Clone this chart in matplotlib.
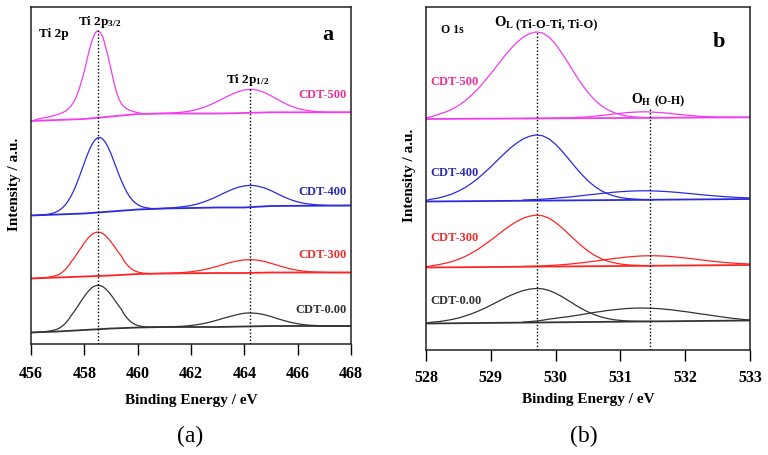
import matplotlib
matplotlib.use("Agg")
import numpy as np
import matplotlib.pyplot as plt

plt.rcParams['font.family'] = ['Liberation Serif', 'DejaVu Serif']
plt.rcParams['mathtext.default'] = 'regular'

# ---------------- data (a.u.) ----------------
samples = ['CDT-500', 'CDT-400', 'CDT-300', 'CDT-0.00']
line_colors = ['#f23cf0', '#2a2ae0', '#ff2424', '#333333']
label_colors = ['#e8329a', '#2b2bb0', '#e83030', '#333333']

# panel (a) Ti 2p: envelope sampled on two energy grids
ti_x32 = np.round(np.arange(456.0, 460.51, 0.1), 2)
ti_x12 = np.round(np.arange(460.75, 468.01, 0.25), 2)

ti32_500 = [223.0, 223.6, 224.3, 225.3, 225.7, 226.2, 226.7, 227.3, 227.9, 228.6,
            229.4, 230.4, 231.6, 233.0, 235.3, 238.0, 242.0, 247.3, 254.4, 263.2,
            272.9, 284.5, 295.1, 304.5, 310.8, 313.3, 311.3, 306.8, 296.6, 286.5,
            274.5, 262.6, 252.4, 244.8, 239.8, 237.0, 235.1, 233.6, 233.0, 232.0,
            231.3, 230.9, 230.1, 230.2, 230.2, 230.3]
ti12_500 = [230.5, 230.7, 231.0, 231.4, 232.1, 233.1, 234.7, 236.8, 239.6, 242.7,
            246.1, 249.3, 252.1, 254.1, 254.7, 253.8, 251.5, 248.2, 244.5, 240.9,
            237.9, 235.6, 234.0, 233.0, 232.3, 232.0, 231.7, 231.7, 231.7, 231.7]
ti32_400 = [128.5, 128.6, 128.8, 128.9, 129.1, 129.3, 129.6, 130.1, 130.7, 131.6,
            132.8, 134.5, 136.7, 139.6, 143.3, 147.9, 153.3, 159.5, 166.4, 173.7,
            181.1, 188.4, 194.9, 200.3, 204.1, 206.3, 206.5, 204.7, 201.3, 196.3,
            190.2, 183.3, 176.2, 169.2, 162.6, 156.7, 151.6, 147.3, 143.9, 141.3,
            139.4, 137.9, 137.0, 136.3, 136.0, 135.5]
ti12_400 = [135.4, 135.7, 136.1, 136.7, 137.5, 138.5, 140.1, 142.2, 144.9, 147.8,
            151.1, 154.1, 156.6, 158.1, 158.7, 157.9, 156.1, 153.4, 150.1, 146.9,
            144.2, 142.1, 140.6, 139.7, 139.1, 138.8, 138.5, 138.5, 138.5, 138.5]
ti32_300 = [65.5, 65.6, 65.7, 65.9, 66.1, 66.3, 66.6, 67.0, 67.5, 68.2,
            69.0, 70.4, 72.3, 74.8, 77.9, 81.9, 85.4, 89.2, 93.2, 97.2,
            101.1, 104.6, 107.6, 110.0, 111.4, 112.0, 111.6, 110.4, 108.2, 105.4,
            102.1, 98.5, 94.7, 91.0, 87.4, 82.8, 79.4, 76.6, 74.5, 73.1,
            72.0, 71.4, 70.9, 70.7, 70.5, 70.4]
ti12_300 = [70.5, 70.6, 70.9, 71.1, 71.6, 72.2, 73.2, 74.4, 76.0, 77.8,
            79.8, 81.7, 83.1, 84.1, 84.4, 83.8, 82.6, 80.7, 78.7, 76.7,
            75.0, 73.7, 72.8, 72.2, 71.9, 71.7, 71.5, 71.5, 71.5, 71.5]
ti32_000 = [11.5, 11.6, 11.7, 11.9, 12.1, 12.3, 12.6, 13.0, 13.5, 14.2,
            15.0, 16.5, 18.4, 21.0, 24.1, 28.2, 31.7, 35.6, 39.6, 43.7,
            47.6, 51.2, 54.2, 56.7, 58.1, 58.8, 58.4, 57.3, 55.1, 52.4,
            49.1, 45.4, 41.6, 37.8, 34.2, 29.5, 26.1, 23.2, 21.1, 19.6,
            18.5, 17.9, 17.4, 17.2, 17.0, 16.9]
ti12_000 = [17.0, 17.0, 17.3, 17.5, 17.9, 18.5, 19.4, 20.6, 22.2, 24.0,
            26.0, 27.8, 29.5, 30.8, 31.1, 30.5, 29.3, 27.5, 25.3, 23.3,
            21.6, 20.2, 19.3, 18.7, 18.4, 18.2, 18.0, 18.0, 18.0, 18.0]

ti_bg_x = [456, 457, 458, 459, 460, 461, 463, 464, 465, 468]
ti_bg_500 = [223, 224, 225, 227.5, 230, 230.5, 230.5, 231, 231.7, 231.7]
ti_bg_400 = [128.5, 129.5, 130.5, 132.5, 134.5, 135.5, 136.5, 136.5, 138, 138.5]
ti_bg_300 = [65.5, 66.5, 67.5, 68.5, 70, 70.5, 71, 71, 71.5, 71.5]
ti_bg_000 = [11.5, 12.5, 14, 15.5, 16.5, 17, 17, 17.5, 18, 18]

ti_peaks = [458.5, 464.2]
ti_peak_tops = [314, 256]

# panel (b) O 1s: O_L component, O_H component, linear background
ol_x = np.round(np.arange(528.0, 531.51, 0.1), 2)
oh_x = np.round(np.arange(529.5, 533.01, 0.1), 2)

ol_500 = [232.0, 233.6, 235.8, 237.9, 240.7, 244.4, 249.0, 254.6, 261.1, 268.4,
          276.4, 284.7, 293.0, 300.7, 307.5, 312.9, 316.4, 318.1, 317.0, 312.8,
          305.7, 296.5, 286.4, 275.9, 266.1, 257.4, 250.2, 244.5, 240.4, 237.4,
          235.3, 234.0, 233.2, 232.7, 232.2, 232.2]
ol_400 = [149.6, 151.0, 152.1, 153.9, 156.0, 158.9, 162.3, 166.6, 171.5, 177.2,
          183.2, 189.6, 195.9, 201.8, 206.9, 211.1, 213.8, 215.1, 214.2, 211.1,
          205.7, 198.8, 191.1, 183.2, 175.8, 169.2, 163.7, 159.5, 156.3, 154.1,
          152.5, 151.5, 151.0, 150.7, 150.2, 150.25]
ol_300 = [83.2, 84.4, 85.4, 86.8, 88.4, 90.7, 93.4, 96.8, 100.6, 105.1,
          109.8, 114.8, 119.8, 124.5, 128.5, 131.8, 133.9, 134.9, 134.2, 131.8,
          127.5, 122.2, 116.1, 110.0, 104.1, 99.0, 94.7, 91.4, 88.9, 87.2,
          86.0, 85.2, 84.8, 84.6, 84.2, 84.3]
ol_000 = [27.0, 27.9, 28.4, 29.4, 30.5, 32.0, 33.9, 36.1, 38.7, 41.6,
          44.8, 48.1, 51.4, 54.5, 57.2, 59.4, 60.9, 61.5, 61.2, 59.5,
          56.8, 53.3, 49.3, 45.2, 41.4, 38.1, 35.3, 33.1, 31.5, 30.3,
          29.6, 29.1, 28.8, 28.7, 28.5, 28.6]

oh_500 = [231.5, 231.5, 231.6, 231.6, 231.7, 231.9, 232.0, 232.1, 232.5, 232.8,
          233.2, 233.9, 234.5, 235.2, 236.0, 236.7, 237.4, 237.8, 238.1, 238.2,
          237.9, 237.5, 237.0, 236.3, 235.6, 235.0, 234.4, 233.8, 233.5, 233.2,
          232.9, 232.9, 232.8, 232.7, 232.7, 232.7]
oh_400 = [150.0, 150.2, 150.5, 150.8, 151.3, 151.8, 152.4, 152.9, 153.6, 154.3,
          155.1, 155.7, 156.5, 157.1, 157.8, 158.3, 158.7, 159.0, 159.2, 159.2,
          159.1, 158.8, 158.5, 158.0, 157.5, 156.8, 156.3, 155.6, 155.0, 154.4,
          153.9, 153.4, 153.0, 152.6, 152.3, 152.0]
oh_300 = [83.6, 83.7, 83.9, 84.1, 84.5, 84.8, 85.3, 85.8, 86.5, 87.2,
          88.0, 88.8, 89.7, 90.6, 91.5, 92.2, 93.0, 93.5, 94.0, 94.2,
          94.3, 94.1, 93.8, 93.3, 92.7, 92.0, 91.3, 90.4, 89.7, 88.9,
          88.3, 87.6, 87.1, 86.6, 86.3, 86.0]
oh_000 = [27.9, 28.4, 29.0, 29.8, 30.9, 31.7, 32.6, 33.4, 34.4, 35.4,
          36.5, 37.6, 38.5, 39.5, 40.2, 40.9, 41.5, 41.8, 42.0, 41.9,
          41.7, 41.3, 40.7, 40.1, 39.2, 38.4, 37.5, 36.5, 35.6, 34.7,
          33.7, 32.8, 31.9, 31.2, 30.5, 30.0]

o_bg_x = [528, 533]
o_bg_500 = [231, 232.7]
o_bg_400 = [148.5, 151]
o_bg_300 = [82.5, 85]
o_bg_000 = [26.5, 29.5]

o_peaks = [529.72, 531.46]
o_peak_tops = [318, 243]

ti_x = np.concatenate([ti_x32, ti_x12])
ti_env = [ti32_500 + ti12_500, ti32_400 + ti12_400, ti32_300 + ti12_300, ti32_000 + ti12_000]
ti_bgs = [ti_bg_500, ti_bg_400, ti_bg_300, ti_bg_000]
ol_all = [ol_500, ol_400, ol_300, ol_000]
oh_all = [oh_500, oh_400, oh_300, oh_000]
o_bgs = [o_bg_500, o_bg_400, o_bg_300, o_bg_000]

# where the sample names sit (a.u.)
ti_label_y = [250, 153, 90, 35]
o_label_y = [269, 178, 113, 50]

fig = plt.figure(figsize=(7.68, 4.56), dpi=100)
ax1 = fig.add_axes([31/768, 1-345/456, 320/768, 337/456])
ax2 = fig.add_axes([426/768, 1-351/456, 324/768, 343/456])

# ---- panel a ----
for i in range(4):
    ax1.plot(ti_bg_x, ti_bgs[i], color=line_colors[i], lw=1.3)
    ax1.plot(ti_x, ti_env[i], color=line_colors[i], lw=0.9)
    ax1.text(467.85, ti_label_y[i], samples[i], color=label_colors[i], fontsize=9,
             fontweight='bold', ha='right', va='center')
ax1.vlines(ti_peaks, 0, ti_peak_tops, colors='black', lw=1, linestyles=(0, (1, 1.5)))
ax1.text(456.3, 308, 'Ti 2p', fontsize=9.5, fontweight='bold', va='baseline')
ax1.text(457.75, 320, 'Ti 2p$_{3/2}$', fontsize=9.5, fontweight='bold', va='baseline')
ax1.text(463.3, 262, 'Ti 2p$_{1/2}$', fontsize=9.5, fontweight='bold', va='baseline')
ax1.text(467.14, 310, 'a', fontsize=16, fontweight='bold', ha='center', va='center')
ax1.set_xlim(456, 468)
ax1.set_ylim(0, 337)
ax1.set_xticks([456, 458, 460, 462, 464, 466, 468])
ax1.tick_params(axis='x', direction='out', length=8, width=1, pad=7)
ax1.set_yticks([])
ax1.set_xlabel('Binding Energy / eV', fontsize=11, fontweight='bold')
ax1.xaxis.set_label_coords(0.5, -(401-345)/337)
ax1.xaxis.label.set_va('center')
ax1.set_ylabel('Intensity / a.u.', fontsize=11, fontweight='bold')
ax1.yaxis.set_label_coords((15-31)/320, (345-184)/337)
ax1.yaxis.label.set_va('center')

# ---- panel b ----
for i in range(4):
    ax2.plot(o_bg_x, o_bgs[i], color=line_colors[i], lw=1.3)
    ax2.plot(ol_x, ol_all[i], color=line_colors[i], lw=0.9)
    ax2.plot(oh_x, oh_all[i], color=line_colors[i], lw=0.9)
    ax2.text(528.07, o_label_y[i], samples[i], color=label_colors[i], fontsize=9,
             fontweight='bold', ha='left', va='center')
ax2.vlines(o_peaks, 0, o_peak_tops, colors='black', lw=1, linestyles=(0, (1, 1.5)))
ax2.text(528.23, 321, 'O 1s', fontsize=8.5, fontweight='bold', va='center')
ax2.text(529.05, 324, 'O$_L$', fontsize=10.5, fontweight='bold', va='baseline')
ax2.text(529.39, 324, '(Ti-O-Ti, Ti-O)', fontsize=9, fontweight='bold', va='baseline')
ax2.text(531.16, 247, 'O$_H$', fontsize=10, fontweight='bold', va='baseline')
ax2.text(531.52, 247, '(O-H)', fontsize=8.5, fontweight='bold', va='baseline')
ax2.text(532.52, 309, 'b', fontsize=16, fontweight='bold', ha='center', va='center')
ax2.set_xlim(528, 533)
ax2.set_ylim(0, 343)
ax2.set_xticks([528, 529, 530, 531, 532, 533])
ax2.tick_params(axis='x', direction='out', length=8, width=1, pad=6)
ax2.set_yticks([])
ax2.set_xlabel('Binding Energy / eV', fontsize=11, fontweight='bold')
ax2.xaxis.set_label_coords(0.5, -(400-351)/343)
ax2.xaxis.label.set_va('center')
ax2.set_ylabel('Intensity / a.u.', fontsize=11, fontweight='bold')
ax2.yaxis.set_label_coords((410-426)/324, (351-175)/343)
ax2.yaxis.label.set_va('center')

for ax in (ax1, ax2):
    for lbl in ax.get_xticklabels():
        lbl.set_fontweight('bold')
        lbl.set_fontsize(11.5)
    for sp in ax.spines.values():
        sp.set_color('#222222')
        sp.set_linewidth(1.1)

fig.text(190/768, 1-436/456, '(a)', fontsize=17, ha='center', va='center')
fig.text(584/768, 1-436/456, '(b)', fontsize=17, ha='center', va='center')

fig.savefig('out.png', dpi=100)
